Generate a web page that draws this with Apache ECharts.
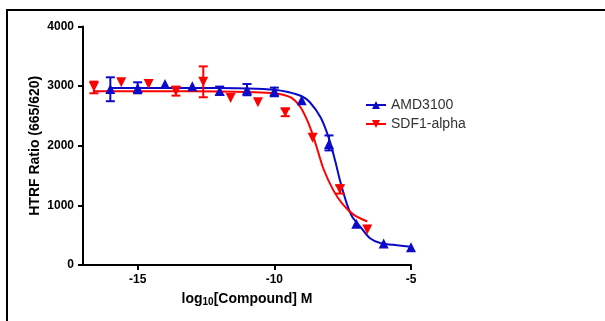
<!DOCTYPE html>
<html>
<head>
<meta charset="utf-8">
<script src="https://cdn.jsdelivr.net/npm/echarts@6/dist/echarts.min.js"></script>
<style>
html,body{margin:0;padding:0;background:#fff;}
#chart{width:605px;height:321px;}
</style>
</head>
<body>
<div id="chart"></div>
<script>
// ---- data ----
const seriesNames = ['AMD3100', 'SDF1-alpha'];
const xTicks = [-15, -10, -5];
const yTicks = [0, 1000, 2000, 3000, 4000];

// AMD3100 measured points [log10 conc, ratio]
const amdPoints = [[-16, 2950], [-15, 2970], [-14, 3036], [-13, 2997], [-12, 2920], [-11, 2940],
  [-10, 2915], [-9, 2765], [-8, 2030], [-7, 690], [-6, 362], [-5, 298]];
// AMD3100 error bars [x, low, high]
const amdErr = [[-16, 2747, 3148], [-15, 2880, 3064], [-12, 2852, 2992], [-11, 2847, 3036],
  [-10, 2830, 2975], [-8, 1922, 2173]];
// AMD3100 fitted curve
const amdCurve = [[-16, 2970], [-14, 2970], [-12, 2968], [-11, 2962], [-10, 2940], [-9.5, 2900],
  [-9, 2830], [-8.7, 2730], [-8.3, 2470], [-8, 2120], [-7.77, 1740], [-7.6, 1420], [-7.35, 1030],
  [-7.15, 810], [-6.85, 640], [-6.5, 450], [-6.1, 365], [-5.5, 330], [-5, 305]];

// SDF1-alpha measured points
const sdfPoints = [[-16.6, 2990], [-15.6, 3064], [-14.6, 3036], [-13.6, 2920], [-12.6, 3072],
  [-11.6, 2800], [-10.6, 2730], [-9.6, 2560], [-8.6, 2133], [-7.6, 1270], [-6.6, 596]];
const sdfErr = [[-16.6, 2880, 3075], [-13.6, 2841, 2992], [-12.6, 2813, 3331], [-9.6, 2496, 2618],
  [-7.6, 1198, 1337]];
const sdfCurve = [[-16.6, 2915], [-14, 2915], [-12, 2910], [-11, 2900], [-10, 2880], [-9.4, 2810],
  [-9.05, 2650], [-8.8, 2430], [-8.6, 2190], [-8.4, 1900], [-8.2, 1610], [-7.85, 1260], [-7.5, 1020],
  [-7.1, 845], [-6.6, 730]];

const BLUE = '#0a0ac8';
const RED = '#ff0000';
const FONT = 'Arial, "Liberation Sans", sans-serif';

function errSeries(name, data, color) {
  return {
    name: name,
    type: 'custom',
    data: data,
    z: 3,
    renderItem: function (params, api) {
      const x = api.value(0);
      const lo = api.coord([x, api.value(1)]);
      const hi = api.coord([x, api.value(2)]);
      const hw = 4.5;
      const style = { stroke: color, lineWidth: 2 };
      return {
        type: 'group',
        children: [
          { type: 'line', shape: { x1: lo[0], y1: lo[1], x2: hi[0], y2: hi[1] }, style: style },
          { type: 'line', shape: { x1: lo[0] - hw, y1: lo[1], x2: lo[0] + hw, y2: lo[1] }, style: style },
          { type: 'line', shape: { x1: hi[0] - hw, y1: hi[1], x2: hi[0] + hw, y2: hi[1] }, style: style }
        ]
      };
    }
  };
}

const chart = echarts.init(document.getElementById('chart'), null, { renderer: 'canvas' });
chart.setOption({
  animation: false,
  backgroundColor: '#fff',
  graphic: [{
    type: 'rect',
    shape: { x: 7, y: 10, width: 640, height: 360 },
    style: { fill: 'none', stroke: '#000', lineWidth: 2 },
    silent: true, z: -10
  }],
  grid: { left: 83, top: 26.5, width: 328, height: 238.5, containLabel: false },
  legend: {
    orient: 'vertical',
    left: 360,
    top: 93,
    itemWidth: 20,
    itemHeight: 10,
    itemGap: 5,
    data: seriesNames,
    textStyle: { fontFamily: FONT, fontSize: 14, color: '#333' }
  },
  xAxis: {
    type: 'value',
    min: -17,
    max: -5,
    name: 'log{sub|10}[Compound] M',
    nameLocation: 'middle',
    nameGap: 26,
    nameMoveOverlap: false,
    nameTextStyle: {
      fontFamily: FONT, fontSize: 14, fontWeight: 'bold', color: '#000',
      rich: { sub: { fontFamily: FONT, fontSize: 10, fontWeight: 'bold', color: '#000', verticalAlign: 'bottom', padding: [6, 0, 0, 0] } }
    },
    axisLine: { onZero: false, lineStyle: { color: '#000', width: 2 } },
    axisTick: { show: true, length: 5, customValues: xTicks, lineStyle: { color: '#000', width: 2 } },
    axisLabel: { customValues: xTicks, margin: 9, fontFamily: FONT, fontSize: 12, fontWeight: 'bold', color: '#000',
      formatter: function (v) { return String(v); } },
    splitLine: { show: false }
  },
  yAxis: {
    type: 'value',
    min: 0,
    max: 4000,
    interval: 1000,
    name: 'HTRF Ratio (665/620)',
    nameLocation: 'middle',
    nameGap: 41,
    nameMoveOverlap: false,
    nameTextStyle: { fontFamily: FONT, fontSize: 14, fontWeight: 'bold', color: '#000' },
    axisLine: { show: true, lineStyle: { color: '#000', width: 2 } },
    axisTick: { show: true, length: 5, lineStyle: { color: '#000', width: 2 } },
    axisLabel: { customValues: yTicks, margin: 9, fontFamily: FONT, fontSize: 12, fontWeight: 'bold', color: '#000',
      formatter: function (v) { return String(v); } },
    splitLine: { show: false }
  },
  series: [
    {
      name: 'AMD3100', type: 'line', data: amdCurve, smooth: 0.3, showSymbol: false,
      symbol: 'triangle', symbolSize: 10, z: 2,
      lineStyle: { color: BLUE, width: 2 }, itemStyle: { color: BLUE, opacity: 1 }
    },
    {
      name: 'SDF1-alpha', type: 'line', data: sdfCurve, smooth: 0.3, showSymbol: false,
      symbol: 'triangle', symbolRotate: 180, symbolSize: 10, z: 2,
      lineStyle: { color: RED, width: 2 }, itemStyle: { color: RED, opacity: 1 }
    },
    errSeries('AMD3100', amdErr, BLUE),
    errSeries('SDF1-alpha', sdfErr, RED),
    {
      name: 'AMD3100', type: 'scatter', data: amdPoints, symbol: 'triangle', symbolSize: 10, z: 4,
      itemStyle: { color: BLUE, opacity: 1 }
    },
    {
      name: 'SDF1-alpha', type: 'scatter', data: sdfPoints, symbol: 'triangle', symbolRotate: 180,
      symbolSize: 10, z: 4, itemStyle: { color: RED, opacity: 1 }
    }
  ]
});
</script>
</body>
</html>
